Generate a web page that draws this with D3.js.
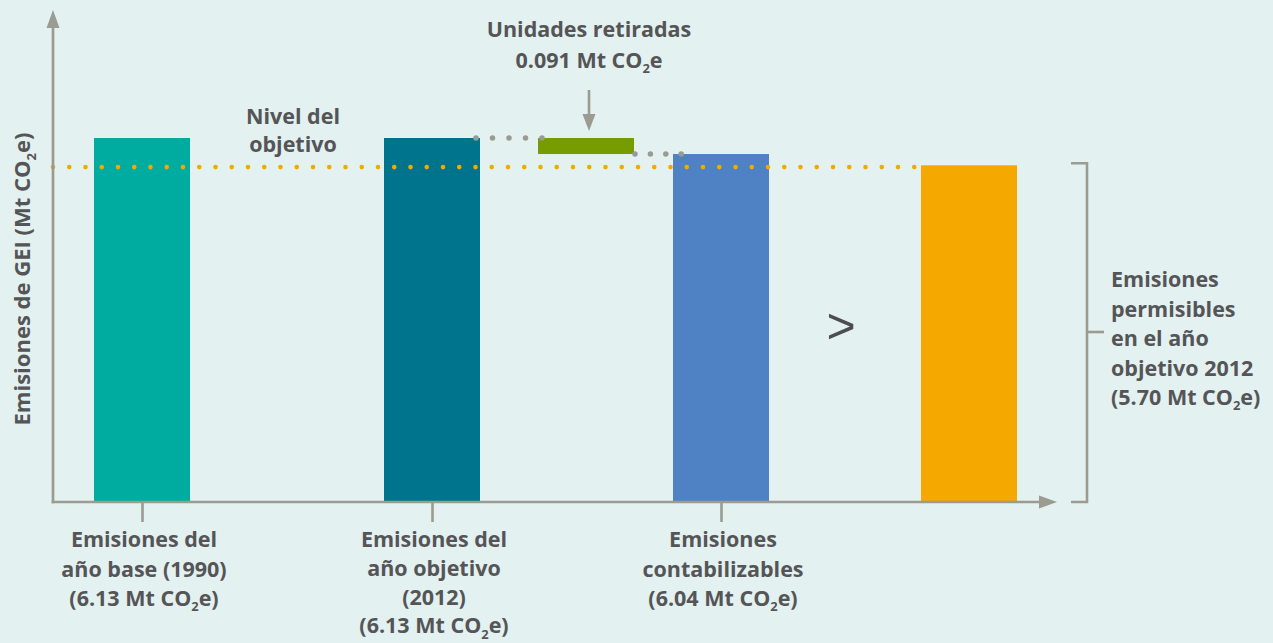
<!DOCTYPE html>
<html>
<head>
<meta charset="utf-8">
<script src="https://cdn.jsdelivr.net/npm/d3@7"></script>
<style>
  html, body { margin: 0; padding: 0; background: #e3f1f0; }
  svg { display: block; }
  text { font-family: "Open Sans", "Noto Sans", sans-serif; font-weight: 700; fill: #555557; }
</style>
</head>
<body>
<svg id="chart" width="1273" height="643"></svg>
<script>
// ---------------- data ----------------
const categories = ["base", "objetivo", "retiradas", "contabilizables", "comparador", "permisibles"];
const barKeys = ["base", "objetivo", "contabilizables", "permisibles"];
// bar heights as drawn (Mt CO2e, schematic reading of the picture)
const barValues = [6.13, 6.13, 5.86, 5.67];
const barColors = ["#00aca0", "#00748c", "#4f82c4", "#f5a800"];
const retiredTop = 6.13;
const retiredBottom = 5.86;
const targetLevel = 5.64;
const tickKeys = ["base", "objetivo", "contabilizables"];
const categoryLabels = [
  ["Emisiones del", "año base (1990)", "(6.13 Mt CO_2e)"],
  ["Emisiones del", "año objetivo", "(2012)", "(6.13 Mt CO_2e)"],
  ["Emisiones", "contabilizables", "(6.04 Mt CO_2e)"]
];
const permissibleLabel = ["Emisiones", "permisibles", "en el año", "objetivo 2012", "(5.70 Mt CO_2e)"];
const retiredLabel = ["Unidades retiradas", "0.091 Mt CO_2e"];
const targetLabel = ["Nivel del", "objetivo"];
const yAxisTitle = "Emisiones de GEI (Mt CO_2e)";

// ---------------- layout ----------------
const axisX = 53, axisY = 502;
const svg = d3.select("#chart");
const axisColor = "#9b9b91";
const FS = 21.5;

const x = d3.scaleOrdinal()
  .domain(categories)
  .range([142, 432, 586, 721, 843, 969]);
const barW = 96;
const y = d3.scaleLinear().domain([0, 6.13]).range([axisY, 138]);

function richText(sel, str) {
  const parts = str.split("_");
  sel.append("tspan").text(parts[0]);
  for (let i = 1; i < parts.length; i++) {
    sel.append("tspan").style("font-size", "0.6em").attr("dy", "0.42em").text(parts[i][0]);
    sel.append("tspan").attr("dy", "-0.25em").text(parts[i].slice(1));
  }
}

// bars
svg.append("g").selectAll("rect")
  .data(barKeys.map((k, i) => ({ k, v: barValues[i], c: barColors[i] })))
  .join("rect")
  .attr("x", d => x(d.k) - barW / 2)
  .attr("width", barW)
  .attr("y", d => y(d.v))
  .attr("height", d => y(0) - y(d.v))
  .attr("fill", d => d.c);

// retired units bar
svg.append("rect")
  .attr("x", x("retiradas") - barW / 2)
  .attr("width", barW)
  .attr("y", y(retiredTop))
  .attr("height", y(retiredBottom) - y(retiredTop))
  .attr("fill", "#769c00");

// grey dotted connectors
svg.append("line")
  .attr("x1", x("objetivo") + barW / 2 - 4).attr("x2", x("retiradas") - barW / 2 + 5)
  .attr("y1", y(retiredTop)).attr("y2", y(retiredTop))
  .attr("stroke", axisColor).attr("stroke-width", 5.5)
  .attr("stroke-linecap", "round").attr("stroke-dasharray", "0 16.5");
svg.append("line")
  .attr("x1", x("retiradas") + barW / 2 + 1).attr("x2", x("contabilizables") - barW / 2 + 9)
  .attr("y1", y(retiredBottom)).attr("y2", y(retiredBottom))
  .attr("stroke", axisColor).attr("stroke-width", 5.5)
  .attr("stroke-linecap", "round").attr("stroke-dasharray", "0 15.4");

// orange target dotted line
svg.append("line")
  .attr("x1", axisX).attr("x2", x("permisibles") - barW / 2 - 2)
  .attr("y1", y(targetLevel)).attr("y2", y(targetLevel))
  .attr("stroke", "#f5a800").attr("stroke-width", 4.6)
  .attr("stroke-linecap", "round").attr("stroke-dasharray", "0 16.25");

// axes
const xAxis = d3.axisBottom(x).tickValues(tickKeys).tickSizeInner(20).tickSizeOuter(0).tickFormat("");
const gx = svg.append("g").attr("transform", `translate(0,${axisY})`).call(xAxis);
gx.select(".domain").remove();
gx.selectAll(".tick line").attr("stroke", axisColor).attr("stroke-width", 2.6);

svg.append("line").attr("x1", axisX - 1.3).attr("x2", 1042).attr("y1", axisY).attr("y2", axisY)
  .attr("stroke", axisColor).attr("stroke-width", 2.7);
svg.append("path").attr("d", `M1057,${axisY} L1039,${axisY - 6.5} L1039,${axisY + 6.5} Z`).attr("fill", axisColor);
svg.append("line").attr("x1", axisX).attr("x2", axisX).attr("y1", axisY + 1.3).attr("y2", 25)
  .attr("stroke", axisColor).attr("stroke-width", 2.7);
svg.append("path").attr("d", `M${axisX},10 L${axisX - 6.5},28 L${axisX + 6.5},28 Z`).attr("fill", axisColor);

// y-axis title
const yt = svg.append("text")
  .attr("transform", `translate(30,${(133 + 425) / 2}) rotate(-90)`)
  .attr("text-anchor", "middle").style("font-size", "22px");
richText(yt, yAxisTitle);

// category labels
const labelBase = [547, 547, 547];
const labelGap = [29.5, 28.8, 29.5];
tickKeys.forEach((k, i) => {
  categoryLabels[i].forEach((line, j) => {
    const t = svg.append("text")
      .attr("x", x(k) + 2).attr("y", labelBase[i] + j * labelGap[i])
      .attr("text-anchor", "middle").style("font-size", FS + "px");
    richText(t, line);
  });
});

// bracket for permissible emissions
const bx = 1087;
svg.append("path")
  .attr("d", `M1071,${y(barValues[3]) - 2} H${bx} V${axisY} H1071`)
  .attr("fill", "none").attr("stroke", axisColor).attr("stroke-width", 2.6);
svg.append("line").attr("x1", bx).attr("x2", 1104).attr("y1", 332).attr("y2", 332)
  .attr("stroke", axisColor).attr("stroke-width", 2.6);
permissibleLabel.forEach((line, j) => {
  const t = svg.append("text").attr("x", 1111).attr("y", 287 + j * 29.5).style("font-size", FS + "px");
  richText(t, line);
});

// comparison sign
svg.append("text").attr("x", x("comparador") - 2).attr("y", 343)
  .attr("text-anchor", "middle")
  .style("font-size", "50px").style("font-weight", "400")
  .style("font-family", "'Liberation Sans', Arial, sans-serif")
  .style("fill", "#4d4d4f")
  .text(">");

// target label
targetLabel.forEach((line, j) => {
  svg.append("text").attr("x", 293).attr("y", 124 + j * 28)
    .attr("text-anchor", "middle").style("font-size", FS + "px").text(line);
});

// retired units label + arrow
retiredLabel.forEach((line, j) => {
  const t = svg.append("text").attr("x", x("retiradas") + 3).attr("y", 37 + j * 31)
    .attr("text-anchor", "middle").style("font-size", FS + "px");
  richText(t, line);
});
const ax = x("retiradas") + 3;
svg.append("line").attr("x1", ax).attr("x2", ax).attr("y1", 90).attr("y2", 118)
  .attr("stroke", axisColor).attr("stroke-width", 2.6);
svg.append("path").attr("d", `M${ax},131 L${ax - 6.5},114 L${ax + 6.5},114 Z`).attr("fill", axisColor);
</script>
</body>
</html>
